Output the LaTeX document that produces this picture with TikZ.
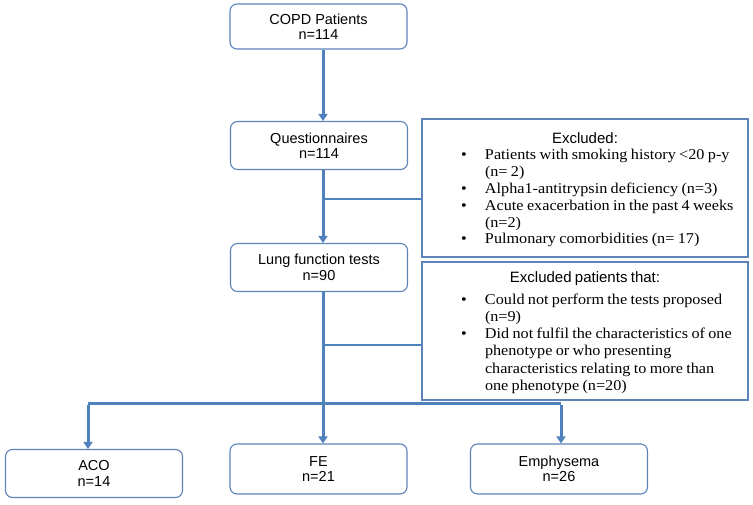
\documentclass[tikz,border=0pt]{standalone}
\usepackage{fontspec}
\setmainfont{Liberation Sans}
\newfontfamily\exfont[FakeStretch=1.08]{Liberation Serif}
\usetikzlibrary{arrows.meta}
\definecolor{bl}{HTML}{4F81BD}
\definecolor{bx}{HTML}{5E83B8}
\newcommand\bitem[1]{\par\hangindent=55pt\hangafter=1\noindent\hspace*{31pt}\makebox[24pt][l]{\textbullet}#1}
\begin{document}
\begin{tikzpicture}[x=1pt,y=-1pt,
  box/.style={draw=bx, line width=1.1pt, rounded corners=7pt, minimum width=177pt,
    minimum height=48pt, inner sep=0pt, align=center, font=\fontsize{14.5}{15.5}\selectfont},
  exbox/.style={draw=bx, line width=1.3pt, minimum width=326pt, minimum height=138pt, inner sep=0pt},
  extext/.style={anchor=north, text width=310pt, inner sep=0pt, align=left},
  arr/.style={draw=bl, line width=3pt, -{Triangle[width=9pt,length=7pt]}},
  trunk/.style={draw=bl, line width=3pt},
  side/.style={draw=bl, line width=1.5pt},
]
\useasboundingbox (0,0) rectangle (753,505);

% main boxes
\node[box, minimum height=45pt] (copd) at (318.5,26.5) {COPD Patients\\n=114};
\node[box] (q) at (319,145.5) {Questionnaires\\n=114};
\node[box] (lung) at (319,267.5) {Lung function tests\\n=90};
\node[box] (aco) at (94,473.5) {ACO\\n=14};
\node[box, minimum height=50pt] (fe) at (318.5,469) {FE\\n=21};
\node[box, minimum height=50pt] (emph) at (559,469) {Emphysema\\n=26};

% exclusion boxes
\node[exbox] (ex1) at (585,188) {};
\node[exbox] (ex2) at (585,331) {};

\node[extext] (ex1t) at (585,132) {%
  \fontsize{15}{16.8}\selectfont
  \centerline{Excluded:}\exfont
  \bitem{Patients with smoking history <20 p-y\newline(n= 2)}
  \bitem{Alpha1-antitrypsin deficiency (n=3)}
  \bitem{Acute exacerbation in the past 4 weeks\newline(n=2)}
  \bitem{Pulmonary comorbidities (n= 17)}\par};

\node[extext] (ex2t) at (585,271) {%
  \fontsize{15}{17.2}\selectfont
  \centerline{Excluded patients that:}\par\vspace{5pt}\exfont
  \bitem{Could not perform the tests proposed\newline(n=9)}
  \bitem{Did not fulfil the characteristics of one\newline phenotype or who presenting\newline characteristics relating to more than\newline one phenotype (n=20)}\par};

% junctions
\coordinate (j1) at (323,199);
\coordinate (j2) at (323,345);
\coordinate (hl) at (88,403);
\coordinate (hr) at (561,403);

% connectors
\draw[arr] ([xshift=4.5pt]copd.south) -- ([xshift=4pt]q.north);
\draw[arr] ([xshift=4pt]q.south) -- ([xshift=4pt]lung.north);
\draw[side] (j1) -- (j1 -| ex1.west);
\draw[arr] ([xshift=4pt]lung.south) -- ([xshift=4.5pt]fe.north);
\draw[side] (j2) -- (j2 -| ex2.west);
\draw[trunk] (hl) -- (hr);
\draw[arr] ([yshift=-1.5pt]hl) -- (hl |- aco.north);
\draw[arr] ([yshift=-1.5pt]hr) -- (hr |- emph.north);
\end{tikzpicture}
\end{document}
